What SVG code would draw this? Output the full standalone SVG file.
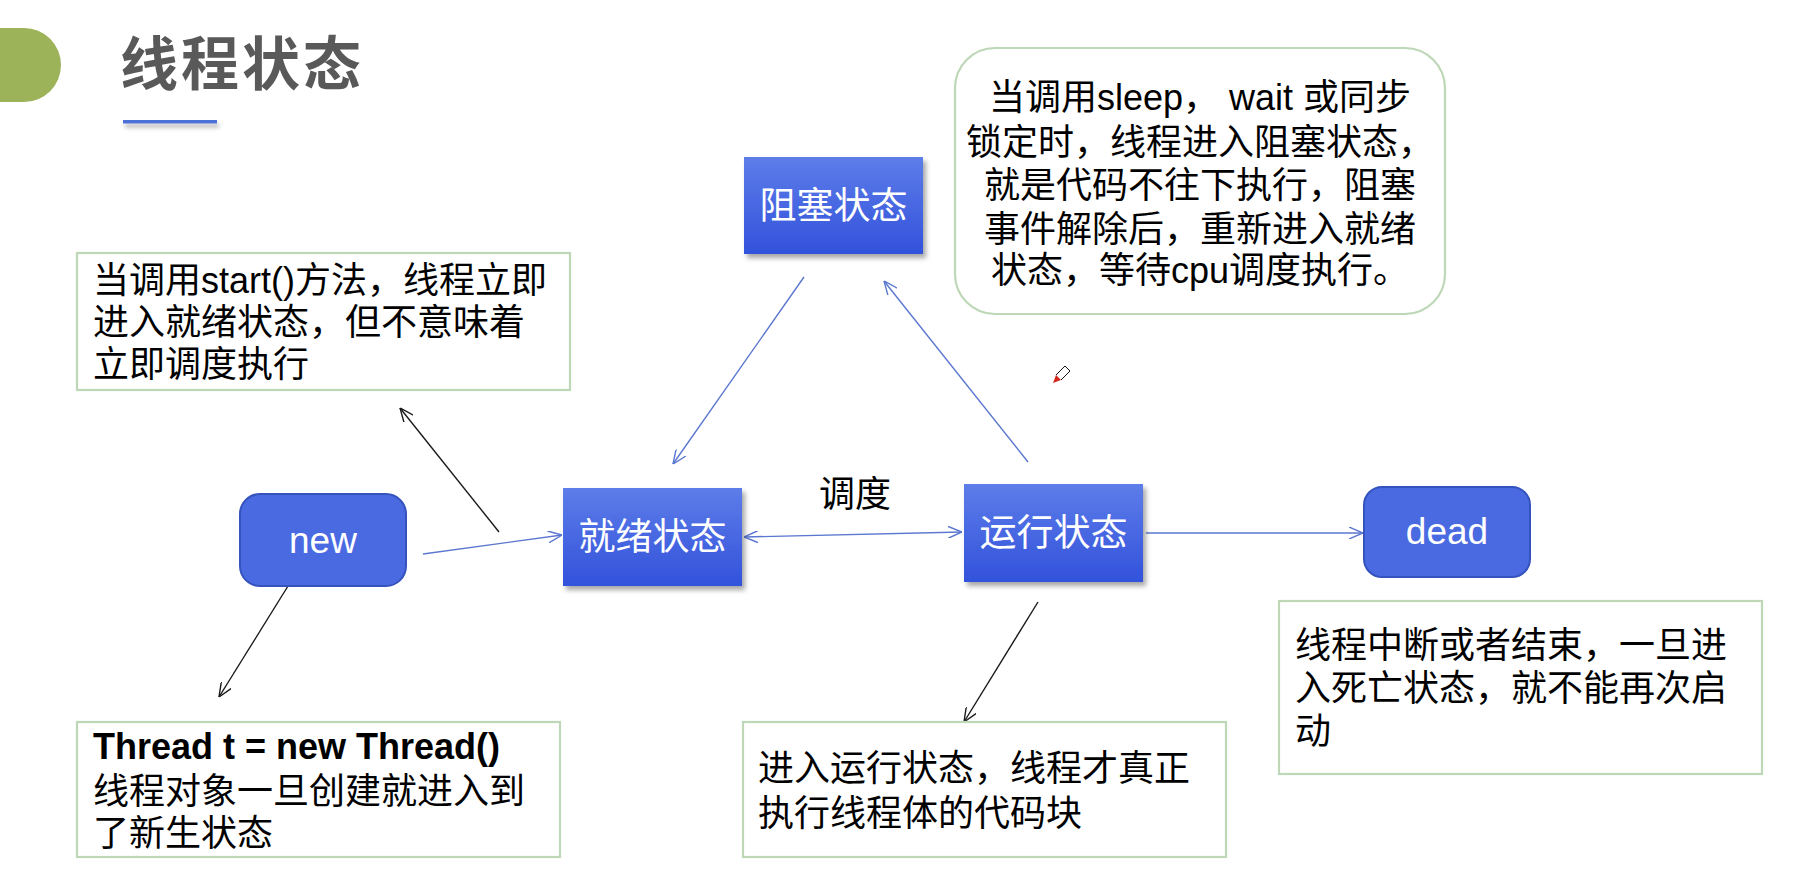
<svg xmlns="http://www.w3.org/2000/svg" width="1815" height="893" viewBox="0 0 1815 893">
<style>
.t{font-family:"Liberation Sans","Noto Sans CJK SC",sans-serif;font-size:36px;fill:#000}
.nt{font-family:"Liberation Sans","Noto Sans CJK SC",sans-serif;font-size:37px;fill:#fff;text-anchor:middle}
.box{fill:#fff;stroke:#bdd7b7;stroke-width:2.2}
.rn{fill:#4a6ae2;stroke:#3553bd;stroke-width:2}
.sn{fill:url(#g);filter:url(#sh)}
.cb{fill:none;stroke:#5b77cf;stroke-width:1.4}
.ck{fill:none;stroke:#1a1a1a;stroke-width:1.4}
</style>
<defs>
<linearGradient id="g" x1="0" y1="0" x2="0" y2="1">
<stop offset="0" stop-color="#5d7de9"/>
<stop offset="1" stop-color="#3252db"/>
</linearGradient>
<filter id="sh" x="-10%" y="-10%" width="130%" height="140%">
<feDropShadow dx="3" dy="4" stdDeviation="2.5" flood-color="#000" flood-opacity="0.35"/>
</filter>
<filter id="sh2" x="-10%" y="-100%" width="130%" height="500%">
<feDropShadow dx="2" dy="4" stdDeviation="2" flood-color="#000" flood-opacity="0.3"/>
</filter>
<marker id="ab" viewBox="0 0 14 12" refX="14" refY="6" markerWidth="14" markerHeight="12" markerUnits="userSpaceOnUse" orient="auto-start-reverse">
<path d="M0,0 L14,6 L0,12" fill="none" stroke="#5b77cf" stroke-width="1.4"/>
</marker>
<marker id="ak" viewBox="0 0 14 12" refX="14" refY="6" markerWidth="14" markerHeight="12" markerUnits="userSpaceOnUse" orient="auto-start-reverse">
<path d="M0,0 L14,6 L0,12" fill="none" stroke="#1a1a1a" stroke-width="1.4"/>
</marker>
</defs>
<rect width="1815" height="893" fill="#fff"/>

<g id="header">
<path d="M0,28 H24 A37,37 0 0 1 24,102 H0 Z" fill="#9db35a"/>
<text x="120" y="85" font-family="Noto Sans CJK SC,sans-serif" font-weight="bold" font-size="58" letter-spacing="3" fill="#595959">线程状态</text>
<rect x="123" y="120" width="94" height="3.5" fill="#4c6fd6" filter="url(#sh2)"/>
</g>

<g id="connectors">
<line class="cb" x1="423" y1="554" x2="562" y2="535" marker-end="url(#ab)"/>
<line class="ck" x1="499" y1="532" x2="400" y2="408" marker-end="url(#ak)"/>
<line class="ck" x1="293" y1="578" x2="219" y2="697" marker-end="url(#ak)"/>
<line class="cb" x1="744" y1="537" x2="962" y2="532" marker-start="url(#ab)" marker-end="url(#ab)"/>
<line class="cb" x1="804" y1="277" x2="673" y2="464" marker-end="url(#ab)"/>
<line class="cb" x1="1028" y1="462" x2="884" y2="281" marker-end="url(#ab)"/>
<line class="cb" x1="1146" y1="533" x2="1363" y2="533" marker-end="url(#ab)"/>
<line class="ck" x1="1038" y1="602" x2="964" y2="722" marker-end="url(#ak)"/>
</g>

<g id="label-schedule">
<text class="t" x="819" y="507">调度</text>
</g>

<g id="note-start">
<rect class="box" x="77" y="253" width="493" height="137"/>
<text class="t" x="93" y="293">当调用start()方法，线程立即</text>
<text class="t" x="93" y="335">进入就绪状态，但不意味着</text>
<text class="t" x="93" y="377">立即调度执行</text>
</g>

<g id="note-blocked">
<rect class="box" x="955" y="48" width="490" height="266" rx="40"/>
<text class="t" x="1200" y="110" text-anchor="middle">当调用sleep， wait 或同步</text>
<text class="t" x="1200" y="155" text-anchor="middle">锁定时，线程进入阻塞状态，</text>
<text class="t" x="1200" y="198" text-anchor="middle">就是代码不往下执行，阻塞</text>
<text class="t" x="1200" y="242" text-anchor="middle">事件解除后，重新进入就绪</text>
<text class="t" x="1200" y="283" text-anchor="middle">状态，等待cpu调度执行。</text>
</g>

<g id="note-new">
<rect class="box" x="77" y="722" width="483" height="135"/>
<text class="t" x="93" y="759" font-weight="bold">Thread t = new Thread()</text>
<text class="t" x="93" y="804">线程对象一旦创建就进入到</text>
<text class="t" x="93" y="846">了新生状态</text>
</g>

<g id="note-running">
<rect class="box" x="743" y="722" width="483" height="135"/>
<text class="t" x="758" y="781">进入运行状态，线程才真正</text>
<text class="t" x="758" y="826">执行线程体的代码块</text>
</g>

<g id="note-dead">
<rect class="box" x="1279" y="601" width="483" height="173"/>
<text class="t" x="1295" y="658">线程中断或者结束，一旦进</text>
<text class="t" x="1295" y="701">入死亡状态，就不能再次启</text>
<text class="t" x="1295" y="744">动</text>
</g>

<g id="node-new">
<rect class="rn" x="240" y="494" width="166" height="92" rx="20"/>
<text class="nt" x="323" y="553" font-size="36">new</text>
</g>

<g id="node-ready">
<rect class="sn" x="563" y="488" width="179" height="98"/>
<text class="nt" x="652.5" y="550">就绪状态</text>
</g>

<g id="node-blocked">
<rect class="sn" x="744" y="157" width="179" height="97"/>
<text class="nt" x="833.5" y="219">阻塞状态</text>
</g>

<g id="node-running">
<rect class="sn" x="964" y="484" width="179" height="98"/>
<text class="nt" x="1053.5" y="546">运行状态</text>
</g>

<g id="node-dead">
<rect class="rn" x="1364" y="487" width="166" height="90" rx="18"/>
<text class="nt" x="1447" y="544" font-size="36">dead</text>
</g>

<g id="cursor">
<path d="M1053,383 L1056,375 L1061,380 Z" fill="#d42a20"/>
<path d="M1056,375 L1065,366 M1061,380 L1070,371 M1065,366 L1070,371" fill="none" stroke="#111" stroke-width="1"/>
</g>
</svg>
